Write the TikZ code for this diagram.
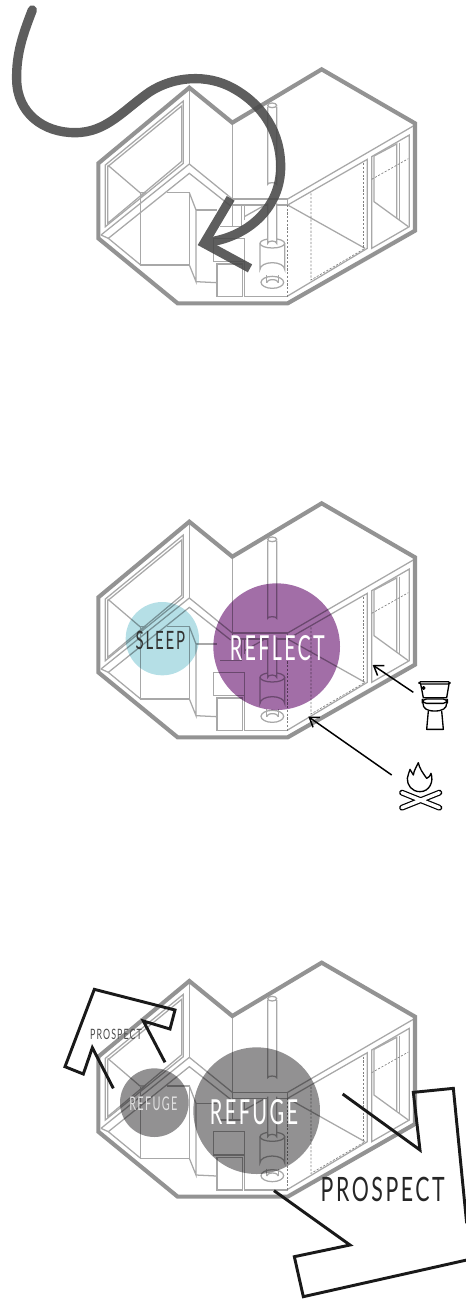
\documentclass[tikz,border=0pt]{standalone}
\usepackage{graphicx}
\usepackage{fontspec}
\setmainfont{Lato}
\usetikzlibrary{arrows.meta}
\definecolor{wallc}{HTML}{939393}
\definecolor{linec}{HTML}{A8A8A8}
\definecolor{arrowc}{HTML}{484848}
\definecolor{sleepc}{HTML}{B5DFE6}
\definecolor{reflectc}{HTML}{A26EA7}
\definecolor{refugec}{HTML}{929192}
\tikzset{
  wall/.style={draw=wallc,line width=3.1pt,miter limit=10},
  thin line/.style={draw=linec,line width=0.95pt},
  dash line/.style={draw=black!50,line width=0.5pt,dash pattern=on 1.6pt off 1.2pt},
  bubble/.style={blend mode=multiply},
  ink/.style={draw=black,line width=1pt,line join=round},
  callout/.style={draw=black,line width=1.1pt,-{Straight Barb[length=6.5pt,width=9pt,line width=1.1pt]}},
  bigarrow/.style={draw=black!90,line width=2.2pt,miter limit=10},
  lbl/.style={inner sep=0pt,outer sep=0pt},
}
% text fitted to a width and height given in picture units (1 unit = 0.25pt)
\newcommand{\fittext}[3]{\resizebox{\dimexpr#1pt*1/4\relax}{\dimexpr#2pt*1/4\relax}{\addfontfeature{LetterSpace=12}#3}}
\newcommand{\housedrawing}{%
  % window wing
  \draw[thin line] (316,495)--(550,303)--(550,490)--(316,680)--cycle;
  \draw[thin line] (323,500)--(545,318)--(545,484)--(323,670)--cycle;
  \draw[thin line] (323,495)--(420,578)--(435,578)--(422,590);
  \draw[thin line] (568,263)--(568,492);
  \draw[thin line] (303,705)--(568,492)--(697,597);
  \draw[thin line] (303,705)--(325,715)--(568,520)--(692,618);
  \draw[thin line] (325,715)--(422,795);
  % bed and shelves
  \draw[thin line] (422,580)--(422,795)--(568,795)--(568,578)--(500,578);
  \draw[thin line] (568,578)--(588,630)--(588,845)--(568,795);
  \draw[thin line] (588,630)--(650,630);
  \draw[thin line] (588,845)--(650,848);
  \draw[thin line] (640,715) rectangle (733,785);
  \draw[thin line] (651,792) rectangle (728,890);
  \draw[thin line] (697,368)--(697,680)--(660,680);
  \draw[thin line] (697,597)--(863,597)--(863,615)--(697,615);
  \draw[thin line] (725,615)--(725,680)--(697,680);
  \draw[thin line] (733,615)--(733,660);
  \draw[thin line] (733,650)--(790,618);
  \draw[thin line] (733,715)--(733,890)--(863,890);
  % stove
  \draw[thin line] (803,320)--(803,553) arc[start angle=180,end angle=360,x radius=13.5,y radius=5]--(830,320);
  \draw[thin line] (816.5,316) ellipse[x radius=13.5,y radius=7];
  \draw[thin line] (817,730) ellipse[x radius=37,y radius=14];
  \draw[thin line] (780,730)--(780,808) arc[start angle=180,end angle=360,x radius=37,y radius=20]--(854,730);
  \draw[thin line,fill=white] (803,610)--(803,730) arc[start angle=180,end angle=360,x radius=13.5,y radius=7]--(830,610);
  \draw[thin line] (800,826)--(800,848);
  \draw[thin line] (835,826)--(835,848);
  \draw[thin line] (817,847) ellipse[x radius=34,y radius=18];
  \draw[thin line] (800,848) arc[start angle=180,end angle=360,x radius=17.5,y radius=9];
  % long wing
  \draw[thin line] (863,597)--(1245,375);
  \draw[thin line] (863,615)--(1102,478)--(1102,745)--(863,888);
  \draw[thin line] (863,615)--(1095,745);
  \draw[thin line] (1115,470)--(1228,405)--(1228,680)--(1115,745)--cycle;
  \draw[thin line] (1122,468)--(1190,432)--(1190,655);
  \draw[thin line] (1198,428)--(1198,660);
  \draw[thin line] (1122,468)--(1122,605)--(1225,680);
  \draw[dash line] (1115,538)--(1225,476);
  \draw[dash line] (933,580)--(933,840)--(1095,745);
  \draw[dash line] (1090,490)--(1090,745);
  \draw[dash line] (863,615)--(863,890);
  % outer walls
  \draw[wall] (295,490)--(568,263)--(697,368)--(965,208)--(1245,370)--(1245,692)--(863,910)--(533,910)--(295,715)--cycle;
}
\begin{document}
\begin{tikzpicture}[x=0.25pt,y=-0.25pt]
\useasboundingbox (0,0) rectangle (1398,3897);
% --- top house and its path
\housedrawing
\begin{scope}[transparency group,opacity=0.88]
  \draw[draw=arrowc,line width=7pt,line cap=round]
    (97,30) .. controls (70,100) and (48,160) .. (50,240)
    .. controls (52,340) and (130,398) .. (225,398)
    .. controls (320,398) and (370,330) .. (450,275)
    .. controls (520,230) and (620,220) .. (700,265)
    .. controls (790,315) and (842,400) .. (842,500)
    .. controls (842,620) and (750,705) .. (635,725);
  \draw[draw=arrowc,line width=6.8pt,miter limit=10] (692,595)--(612,730)--(750,805);
\end{scope}
% --- middle house
\begin{scope}[shift={(0,1302)}]
  \housedrawing
\end{scope}
\begin{scope}[shift={(240,1470)}]
  \fill[bubble,sleepc] (247,446) circle[radius=110];
  \fill[bubble,reflectc] (590,470) circle[radius=190];
  \node[lbl,text=black!80] (sleep) at (241,450) {\fittext{148}{55}{SLEEP}};
  \node[lbl,text=white] (reflect) at (592,475) {\fittext{285}{75}{REFLECT}};
  \coordinate (toiletfrom) at (1000,607);
  \coordinate (toiletto) at (878,525);
  \coordinate (firefrom) at (935,855);
  \coordinate (fireto) at (685,680);
  \draw[callout] (toiletfrom)--(toiletto);
  \draw[callout] (firefrom)--(fireto);
  % toilet
  \draw[ink,rounded corners=1.2pt] (1017,575) rectangle (1110,582);
  \draw[ink] (1022,582)--(1030,623)--(1100,623)--(1107,582);
  \draw[ink] (1031,594) circle[radius=4];
  \draw[ink,rounded corners=3pt] (1027,627)--(1102,627)--(1102,640)--(1027,640)--cycle;
  \draw[ink] (1029,640) .. controls (1029,655) and (1040,663) .. (1064,663) .. controls (1088,663) and (1100,655) .. (1100,640);
  \draw[ink] (1045,663)--(1040,718)--(1090,718)--(1085,663);
  % fire
  \draw[ink] (1015,818) .. controls (1018,835) and (1028,848) .. (1040,865)
    .. controls (1047,863) and (1051,857) .. (1053,850)
    .. controls (1062,875) and (1048,905) .. (1020,905)
    .. controls (995,905) and (981,885) .. (982,865)
    .. controls (983,855) and (988,847) .. (990,838)
    .. controls (994,845) and (997,850) .. (1000,855)
    .. controls (1002,840) and (1010,830) .. (1015,818) -- cycle;
  \draw[draw=black,line width=4.4pt,line cap=round] (966,908)--(1078,953) (1078,908)--(966,953);
  \draw[draw=white,line width=2.6pt,line cap=round] (966,908)--(1078,953) (1078,908)--(966,953);
\end{scope}
% --- bottom house
\begin{scope}[shift={(0,2680)}]
  \housedrawing
\end{scope}
\begin{scope}[shift={(120,2850)}]
  \fill[bubble,refugec] (343,458) circle[radius=103];
  \fill[bubble,refugec] (650,482) circle[radius=190];
  \node[lbl,text=black!70] (prospectsmall) at (228,252) {\fittext{155}{31}{PROSPECT}};
  \node[lbl,text=black!12] (refugesmall) at (340,462) {\fittext{144}{41}{REFUGE}};
  \node[lbl,text=white] (refugebig) at (642,487) {\fittext{265}{75}{REFUGE}};
  \node[lbl,text=black!85] (prospectbig) at (1028,718) {\fittext{372}{73}{PROSPECT}};
  \draw[bigarrow] (220,415)--(157,293)--(130,372)--(75,350)--(163,118)--(405,180)--(390,237)--(310,213)--(375,337);
  \draw[bigarrow] (908,432)--(1140,600)--(1120,427)--(1240,415)--(1280,820)
     (1280,930)--(790,1040)--(763,920)--(930,885)--(702,722);
\end{scope}
\end{tikzpicture}
\end{document}
